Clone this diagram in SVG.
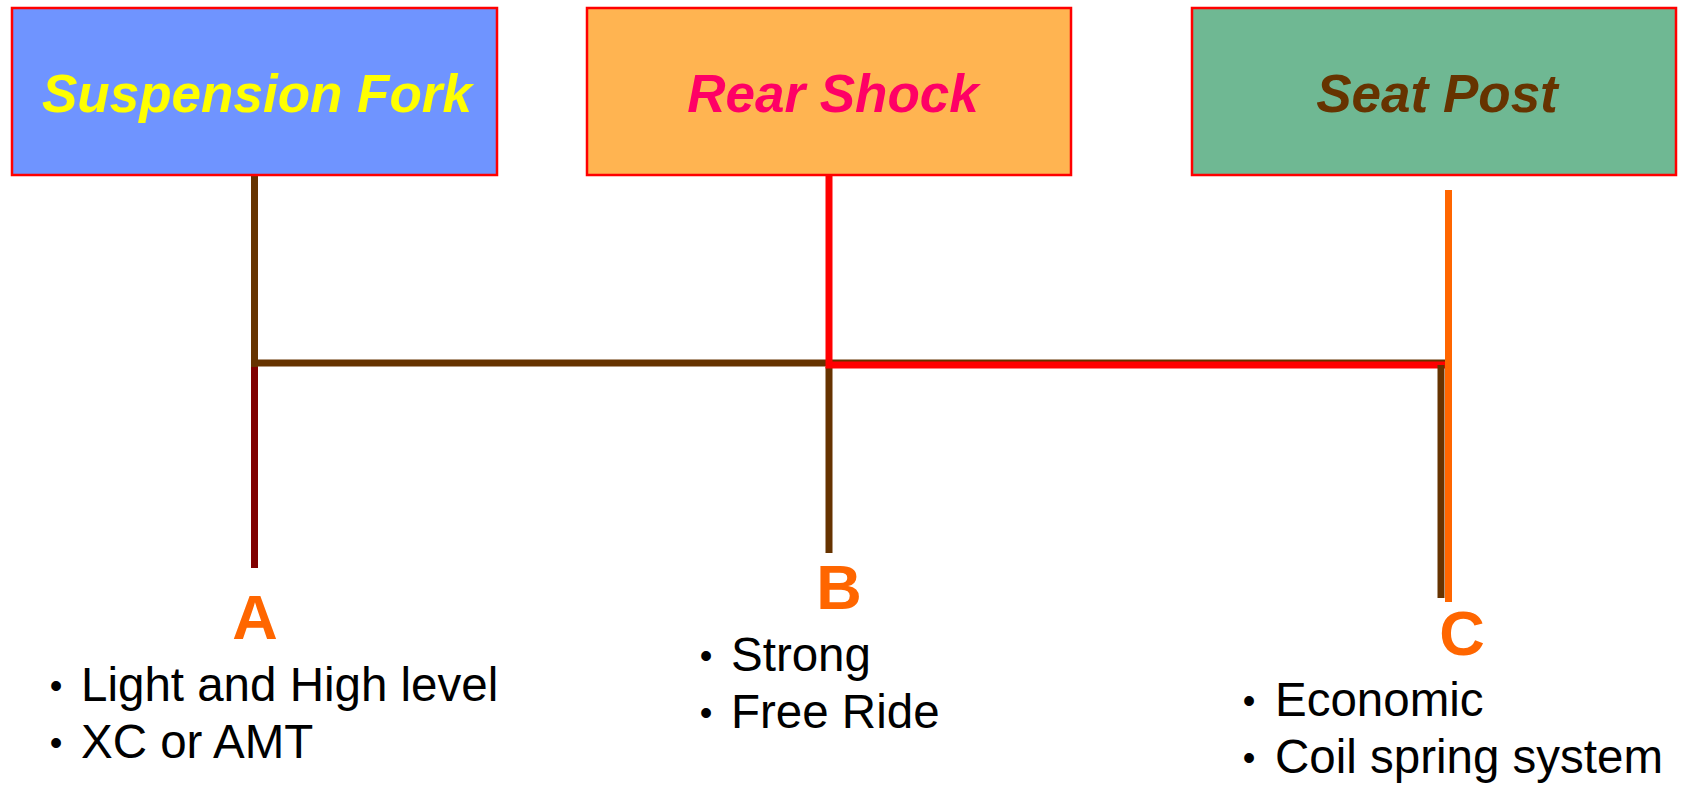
<svg xmlns="http://www.w3.org/2000/svg" width="1683" height="785" viewBox="0 0 1683 785">
<style>
.box{stroke:#FF0000;stroke-width:2.5}
.title{font-family:"Liberation Sans",Arial,sans-serif;font-size:53px;font-weight:bold;font-style:italic;text-anchor:middle}
.letter{font-family:"Liberation Sans",Arial,sans-serif;font-size:63px;font-weight:bold;fill:#FF6600;text-anchor:middle}
.item{font-family:"Liberation Sans",Arial,sans-serif;font-size:47.5px;fill:#000000}
.bul{font-family:"Liberation Sans",Arial,sans-serif;font-size:36px;fill:#000000;text-anchor:middle}
.ln{fill:none;stroke-width:7;stroke-linecap:butt}
</style>
<rect width="1683" height="785" fill="#FFFFFF"/>
<g id="connectors">
<line class="ln" x1="254.5" y1="171" x2="254.5" y2="367" stroke="#663300"/>
<line class="ln" x1="254.5" y1="367" x2="254.5" y2="568" stroke="#800000"/>
<line class="ln" x1="251" y1="363" x2="1445" y2="363" stroke="#663300"/>
<line class="ln" x1="829" y1="367" x2="829" y2="553" stroke="#663300"/>
<polyline class="ln" points="829,175 829,365 1445,365" stroke="#FF0000"/>
<line class="ln" x1="1441" y1="365" x2="1441" y2="598" stroke="#663300"/>
<line class="ln" x1="1448.5" y1="190" x2="1448.5" y2="602" stroke="#FF6600"/>
</g>
<g id="node-fork">
<rect class="box" x="12" y="8" width="485" height="167" fill="#6F94FF"/>
<text class="title" x="257" y="112" fill="#FFFF00">Suspension Fork</text>
</g>
<g id="node-shock">
<rect class="box" x="587" y="8" width="484" height="167" fill="#FFB451"/>
<text class="title" x="833" y="112" fill="#FF0066">Rear Shock</text>
</g>
<g id="node-seat">
<rect class="box" x="1192" y="8" width="484" height="167" fill="#6FB893"/>
<text class="title" x="1437" y="112" fill="#663300">Seat Post</text>
</g>
<g id="node-A">
<text class="letter" x="255" y="639">A</text>
<text class="bul" x="56" y="698">•</text>
<text class="item" x="81" y="701">Light and High level</text>
<text class="bul" x="56" y="755">•</text>
<text class="item" x="81" y="758">XC or AMT</text>
</g>
<g id="node-B">
<text class="letter" x="839" y="609">B</text>
<text class="bul" x="706" y="668">•</text>
<text class="item" x="731" y="671">Strong</text>
<text class="bul" x="706" y="725">•</text>
<text class="item" x="731" y="728">Free Ride</text>
</g>
<g id="node-C">
<text class="letter" x="1462" y="655">C</text>
<text class="bul" x="1249" y="713">•</text>
<text class="item" x="1275" y="716">Economic</text>
<text class="bul" x="1249" y="770">•</text>
<text class="item" x="1275" y="773">Coil spring system</text>
</g>
</svg>
